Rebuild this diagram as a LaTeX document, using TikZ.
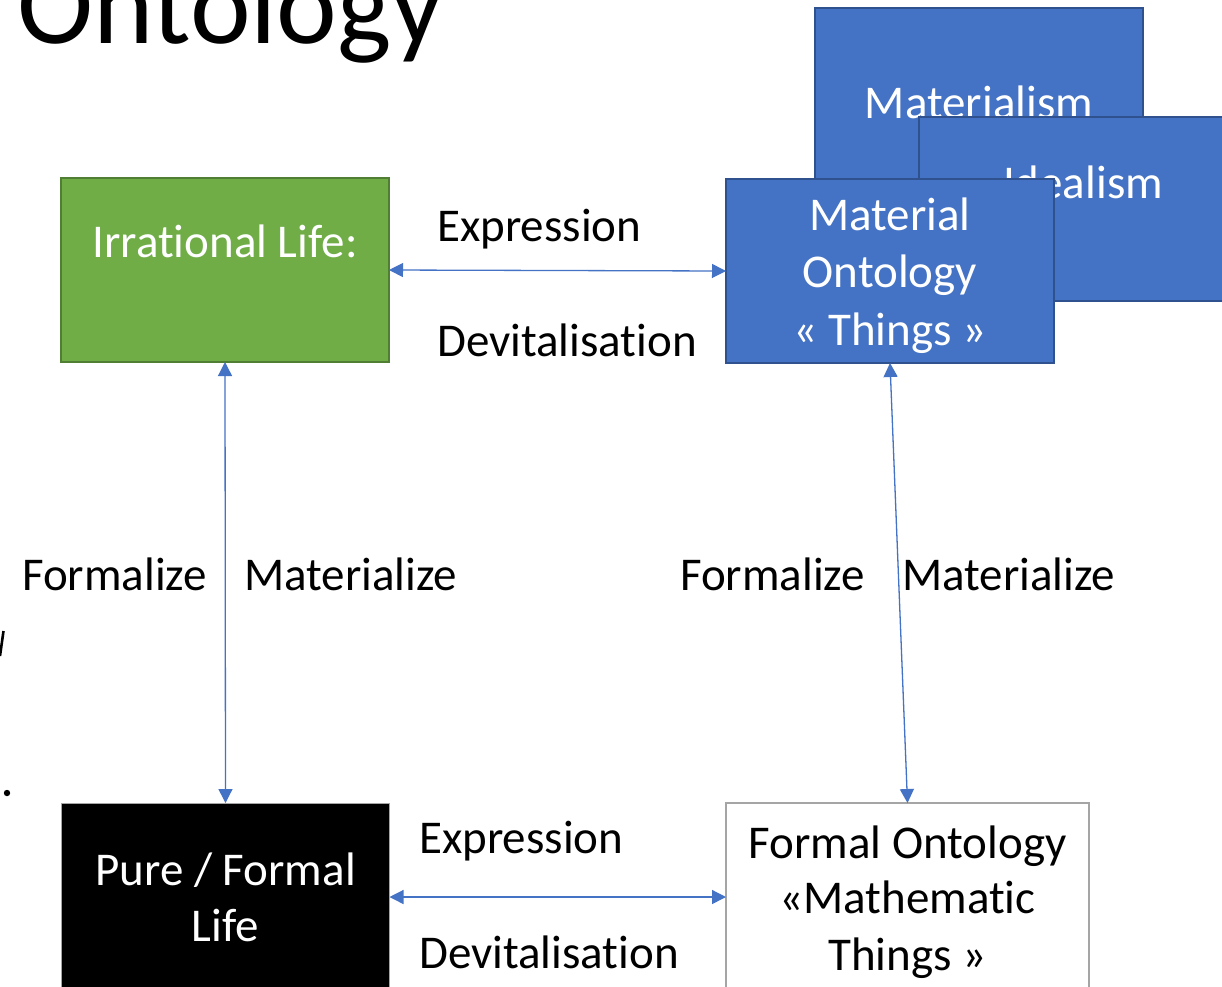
\documentclass[tikz,border=0pt]{standalone}
\usepackage{fontspec}
\setmainfont[Ligatures={NoCommon,NoContextual}]{Carlito}
\usetikzlibrary{arrows.meta}
\definecolor{accblue}{HTML}{4472C4}
\definecolor{accblueline}{HTML}{2F528F}
\definecolor{accgreen}{HTML}{70AD47}
\definecolor{accgreenline}{HTML}{507E32}
\definecolor{boxgrey}{HTML}{A5A5A5}
\tikzset{
  box/.style={rectangle, inner sep=0pt, outer sep=0pt, minimum width=328pt, minimum height=184pt},
  bluebox/.style={box, fill=accblue, draw=accblueline, line width=2pt},
  lbl/.style={font=\fontsize{47}{57}\selectfont, anchor=base, inner sep=0pt},
  wlbl/.style={lbl, text=white},
  link/.style={accblue, line width=1.3pt, {Triangle[width=14pt,length=14pt]}-{Triangle[width=14pt,length=14pt]}}
}
\begin{document}
\begin{tikzpicture}[x=1pt,y=-1pt]
\useasboundingbox (0,0) rectangle (1222,986);
\clip (0,0) rectangle (1222,986);
\fill[white] (0,0) rectangle (1222,986);

% slide title
\node[lbl, anchor=base west, font=\fontsize{115}{120}\selectfont] (title) at (17,43) {Ontology};

% stray marks of the slide's bullet text at the left edge
\draw[line width=2.6pt] (3.5,631) -- (0,656);
\fill (7,793) circle (3.2pt);

% top-right stack of blue boxes
\node[bluebox] (materialism) at (979,100) {};
\node[wlbl] (materialismtxt) at (979,118) {Materialism};
\node[bluebox] (idealism) at (1083,209) {};
\node[wlbl] (idealismtxt) at (1083,198) {Idealism};
\node[bluebox] (material) at (890,271) {};
\node[wlbl] (mat1) at (890,230) {Material};
\node[wlbl] (mat2) at (890,287) {Ontology};
\node[wlbl] (mat3) at (890,345) {« Things »};

% irrational life
\node[box, fill=accgreen, draw=accgreenline, line width=2pt] (irrational) at (225,270) {};
\node[wlbl] (irrtxt) at (225,257) {Irrational Life:};

% pure / formal life
\node[box, fill=black, draw=boxgrey, line width=1pt, minimum height=188pt] (pure) at (225.5,897) {};
\node[wlbl] (pure1) at (225.5,885) {Pure / Formal};
\node[wlbl] (pure2) at (225.5,941) {Life};

% formal ontology
\node[box, fill=white, draw=boxgrey, line width=2pt, minimum width=363pt, minimum height=188pt] (formal) at (907.5,897) {};
\node[lbl] (form1) at (907.5,858) {Formal Ontology};
\node[lbl] (form2) at (907.5,913) {«Mathematic};
\node[lbl] (form3) at (907.5,970) {Things »};

% connectors
\draw[link] (irrational.east) -- (material.west);
\draw[link] (pure.east) -- (formal.west);
\draw[link] (irrational.south) -- (pure.north);
\draw[link] (material.south) -- (formal.north);

% connector labels
\node[lbl, anchor=base west] (exp1) at (437,241) {Expression};
\node[lbl, anchor=base west] (dev1) at (437,356) {Devitalisation};
\node[lbl, anchor=base west] (exp2) at (419,853) {Expression};
\node[lbl, anchor=base west] (dev2) at (419,968) {Devitalisation};
\node[lbl, anchor=base west] (frm1) at (22,590) {Formalize};
\node[lbl, anchor=base west] (mtz1) at (244,590) {Materialize};
\node[lbl, anchor=base west] (frm2) at (680,590) {Formalize};
\node[lbl, anchor=base west] (mtz2) at (902,590) {Materialize};
\end{tikzpicture}
\end{document}
